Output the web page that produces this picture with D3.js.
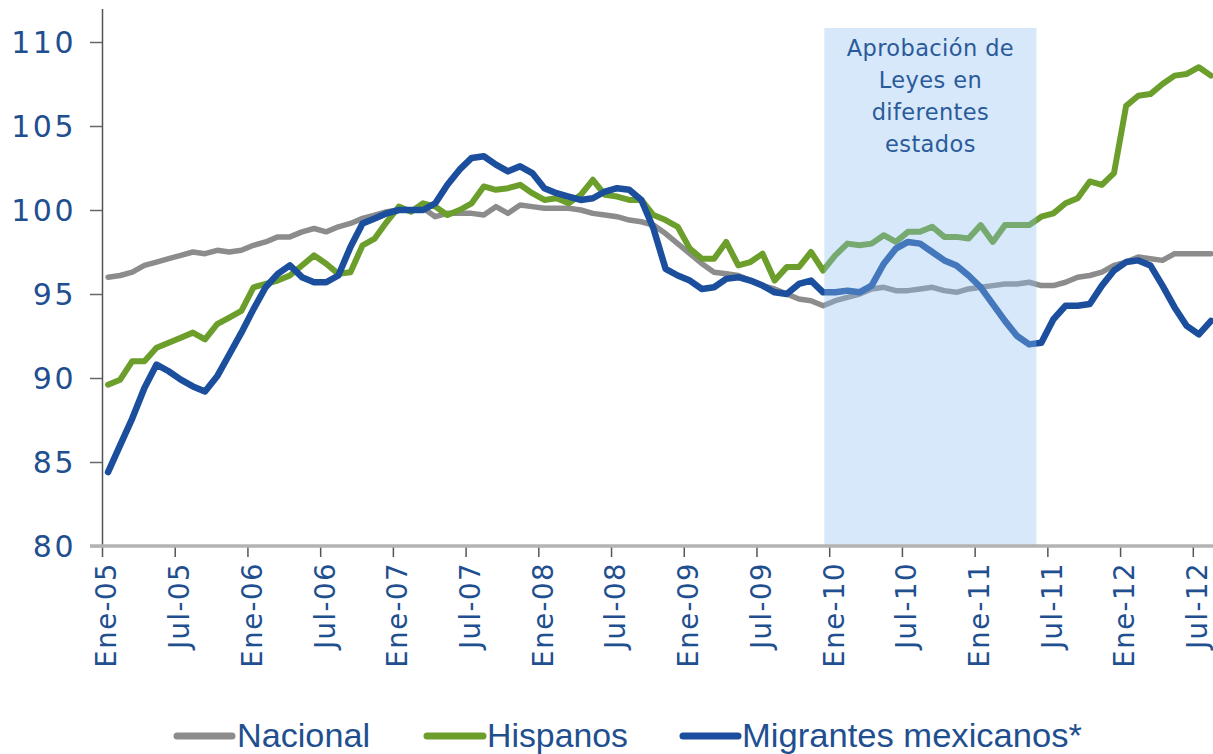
<!DOCTYPE html>
<html>
<head>
  <meta charset="UTF-8">
  <title>Empleo: Nacional, Hispanos, Migrantes mexicanos</title>
  <style>
      body {
          margin: 0;
          background: #fff;
      }

      svg {
          display: block;
      }

      .axis text {
          fill: #1f4f8f;
      }
    </style>
  <script src="https://cdn.jsdelivr.net/npm/d3@7"></script>
</head>

<body>
<div id="chart"></div>

<script>
// Meses (Ene-05 ... Ago-12)
var meses = ['Ene', 'Feb', 'Mar', 'Abr', 'May', 'Jun', 'Jul', 'Ago', 'Sep', 'Oct', 'Nov', 'Dic'];
var fechas = d3.range(92).map(function(i) {
  return meses[i % 12] + '-' + ('0' + (5 + Math.floor(i / 12))).slice(-2);
});

var tickLabels = ['Ene-05', 'Jul-05', 'Ene-06', 'Jul-06', 'Ene-07', 'Jul-07', 'Ene-08', 'Jul-08',
  'Ene-09', 'Jul-09', 'Ene-10', 'Jul-10', 'Ene-11', 'Jul-11', 'Ene-12', 'Jul-12'];
var yTicks = [80, 85, 90, 95, 100, 105, 110];

var nacional = [
  96.0, 96.1, 96.3, 96.7, 96.9, 97.1, 97.3, 97.5, 97.4, 97.6, 97.5, 97.6,
  97.9, 98.1, 98.4, 98.4, 98.7, 98.9, 98.7, 99.0, 99.2, 99.5, 99.7, 99.9,
  100.0, 100.0, 100.1, 99.6, 99.8, 99.8, 99.8, 99.7, 100.2, 99.8, 100.3, 100.2,
  100.1, 100.1, 100.1, 100.0, 99.8, 99.7, 99.6, 99.4, 99.3, 99.1, 98.6, 98.0,
  97.4, 96.8, 96.3, 96.2, 96.1, 95.8, 95.5, 95.3, 95.0, 94.7, 94.6, 94.3,
  94.6, 94.8, 95.0, 95.3, 95.4, 95.2, 95.2, 95.3, 95.4, 95.2, 95.1, 95.3,
  95.4, 95.5, 95.6, 95.6, 95.7, 95.5, 95.5, 95.7, 96.0, 96.1, 96.3, 96.7,
  96.9, 97.2, 97.1, 97.0, 97.4, 97.4, 97.4, 97.4
];

var hispanos = [
  89.6, 89.9, 91.0, 91.0, 91.8, 92.1, 92.4, 92.7, 92.3, 93.2, 93.6, 94.0,
  95.4, 95.6, 95.8, 96.1, 96.7, 97.3, 96.8, 96.2, 96.3, 97.9, 98.3, 99.3,
  100.2, 99.9, 100.4, 100.2, 99.7, 100.0, 100.4, 101.4, 101.2, 101.3, 101.5, 101.0,
  100.6, 100.7, 100.4, 100.9, 101.8, 100.9, 100.8, 100.6, 100.6, 99.7, 99.4, 99.0,
  97.7, 97.1, 97.1, 98.1, 96.7, 96.9, 97.4, 95.8, 96.6, 96.6, 97.5, 96.4,
  97.3, 98.0, 97.9, 98.0, 98.5, 98.1, 98.7, 98.7, 99.0, 98.4, 98.4, 98.3,
  99.1, 98.1, 99.1, 99.1, 99.1, 99.6, 99.8, 100.4, 100.7, 101.7, 101.5, 102.2,
  106.2, 106.8, 106.9, 107.5, 108.0, 108.1, 108.5, 108.0
];

var migrantes = [
  84.4, 86.0, 87.6, 89.4, 90.8, 90.4, 89.9, 89.5, 89.2, 90.1, 91.4, 92.7,
  94.1, 95.4, 96.2, 96.7, 96.0, 95.7, 95.7, 96.1, 97.8, 99.2, 99.5, 99.8,
  100.0, 100.0, 100.0, 100.4, 101.5, 102.4, 103.1, 103.2, 102.7, 102.3, 102.6, 102.2,
  101.3, 101.0, 100.8, 100.6, 100.7, 101.1, 101.3, 101.2, 100.6, 98.9, 96.5, 96.1,
  95.8, 95.3, 95.4, 95.9, 96.0, 95.8, 95.5, 95.1, 95.0, 95.6, 95.8, 95.1,
  95.1, 95.2, 95.1, 95.5, 96.8, 97.7, 98.1, 98.0, 97.5, 97.0, 96.7, 96.1,
  95.4, 94.4, 93.4, 92.5, 92.0, 92.1, 93.5, 94.3, 94.3, 94.4, 95.5, 96.4,
  96.9, 97.0, 96.7, 95.5, 94.2, 93.1, 92.6, 93.4
];

// Periodo sombreado (en meses desde Ene-05)
var sombraInicio = 59.6, sombraFin = 77.1;
var sombraTexto = ['Aprobación de', 'Leyes en', 'diferentes', 'estados'];

var series = [
  { id: 'Nacional', values: nacional, color: '#8c8c8c', width: 5.5 },
  { id: 'Hispanos', values: hispanos, color: '#6b9e2b', width: 6 },
  { id: 'Migrantes mexicanos*', values: migrantes, color: '#1b4f9e', width: 6.5 }
];

var width = 1213, height = 754;

var svg = d3.select('#chart').append('svg')
  .attr('width', width)
  .attr('height', height);

// Scales
var x = d3.scaleLinear()
  .domain([0, fechas.length])
  .range([102, 102 + 12.12 * fechas.length]);

var y = d3.scaleLinear()
  .domain([80, 112])
  .range([546, 8.4]);

// Lines
var line = d3.line()
  .x(function(d, i) { return x(i + 0.5); })
  .y(function(d) { return y(d); });

svg.append('g')
  .selectAll('path')
  .data(series)
  .enter()
  .append('path')
  .attr('d', function(d) { return line(d.values); })
  .style('fill', 'none')
  .style('stroke', function(d) { return d.color; })
  .style('stroke-width', function(d) { return d.width; })
  .style('stroke-linejoin', 'round')
  .style('stroke-linecap', 'round');

// Shaded period, drawn over the lines
svg.append('rect')
  .attr('x', x(sombraInicio))
  .attr('y', 28)
  .attr('width', x(sombraFin) - x(sombraInicio))
  .attr('height', y(80) - 28)
  .style('fill', '#8ec0ef')
  .style('fill-opacity', 0.36);

svg.append('text')
  .attr('x', (x(sombraInicio) + x(sombraFin)) / 2)
  .attr('y', 56)
  .attr('text-anchor', 'middle')
  .style('font-family', 'DejaVu Sans, sans-serif')
  .style('font-size', '22.5px')
  .style('letter-spacing', '0.4px')
  .style('fill', '#2a5a9a')
  .selectAll('tspan')
  .data(sombraTexto)
  .enter()
  .append('tspan')
  .attr('x', (x(sombraInicio) + x(sombraFin)) / 2)
  .attr('dy', function(d, i) { return i === 0 ? 0 : 32; })
  .text(function(d) { return d; });

// Y axis
var yAxis = svg.append('g')
  .attr('class', 'axis y')
  .attr('transform', 'translate(102,0)')
  .call(d3.axisLeft(y).tickValues(yTicks).tickSize(12).tickSizeOuter(0).tickPadding(14));

yAxis.select('.domain').style('stroke', '#555').style('stroke-width', 1.5);
yAxis.selectAll('.tick line').style('stroke', '#666').style('stroke-width', 1.5);
yAxis.selectAll('.tick text')
  .style('font-family', 'DejaVu Sans, sans-serif')
  .style('font-size', '30px')
  .style('letter-spacing', '2.5px')
  .attr('dy', '0.36em');

// X axis
var xAxis = svg.append('g')
  .attr('class', 'axis x')
  .attr('transform', 'translate(0,' + y(80) + ')')
  .call(d3.axisBottom(x)
    .tickValues(d3.range(0, fechas.length, 6))
    .tickFormat(function(d) { return tickLabels[d / 6]; })
    .tickSize(11)
    .tickSizeOuter(0));

xAxis.select('.domain').remove();
xAxis.selectAll('.tick line').style('stroke', '#555').style('stroke-width', 1.5);
xAxis.selectAll('.tick text')
  .attr('transform', 'translate(4,16) rotate(-90)')
  .attr('x', 0)
  .attr('y', 0)
  .attr('dy', '0.36em')
  .attr('text-anchor', 'end')
  .style('font-family', 'DejaVu Sans, sans-serif')
  .style('font-size', '27.5px')
  .style('letter-spacing', '1.5px');

xAxis.append('line')
  .attr('x1', 90)
  .attr('x2', width)
  .attr('y1', 0)
  .attr('y2', 0)
  .style('stroke', '#b3b3b3')
  .style('stroke-width', 3.5);

// Legend
var legendPos = [
  { x1: 177, x2: 232, tx: 237, len: 133 },
  { x1: 427, x2: 483, tx: 487, len: 141 },
  { x1: 683, x2: 738, tx: 742, len: 340 }
];

var legend = svg.append('g')
  .selectAll('g')
  .data(series)
  .enter()
  .append('g');

legend.append('line')
  .attr('x1', function(d, i) { return legendPos[i].x1; })
  .attr('x2', function(d, i) { return legendPos[i].x2; })
  .attr('y1', 736)
  .attr('y2', 736)
  .style('stroke', function(d) { return d.color; })
  .style('stroke-width', 7)
  .style('stroke-linecap', 'round');

legend.append('text')
  .attr('x', function(d, i) { return legendPos[i].tx; })
  .attr('y', 747)
  .attr('textLength', function(d, i) { return legendPos[i].len; })
  .attr('lengthAdjust', 'spacingAndGlyphs')
  .style('font-family', 'Liberation Sans, Arial, sans-serif')
  .style('font-size', '33px')
  .style('fill', '#1f4f8f')
  .text(function(d) { return d.id; });
</script>
</body>
</html>
